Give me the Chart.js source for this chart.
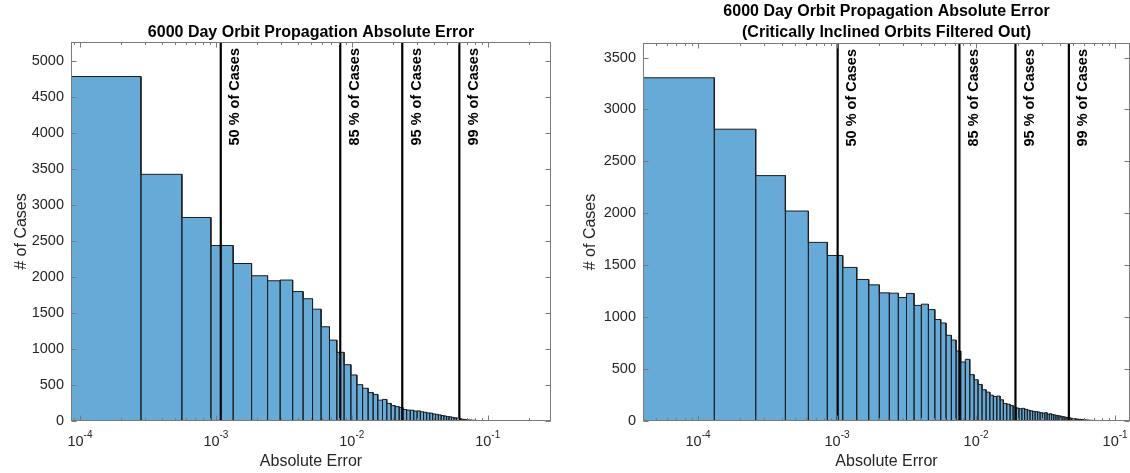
<!DOCTYPE html>
<html>
<head>
<meta charset="utf-8">
<script src="https://cdn.jsdelivr.net/npm/chart.js@4.4.1/dist/chart.umd.min.js"></script>
<style>
  html, body { margin: 0; padding: 0; background: #fff; }
  #wrap { position: relative; width: 1130px; height: 473px; overflow: hidden; }
  canvas { position: absolute; top: 0; }
</style>
</head>
<body>
<div id="wrap">
  <canvas id="histAll" width="565" height="473" style="left:0"></canvas>
  <canvas id="histFiltered" width="565" height="473" style="left:565px"></canvas>
</div>
<script>
/* ---------- data ---------- */

const TITLE_ALL = ["6000 Day Orbit Propagation Absolute Error"];
const TITLE_FILTERED = ["6000 Day Orbit Propagation Absolute Error", "(Critically Inclined Orbits Filtered Out)"];
const X_LABEL = "Absolute Error";
const Y_LABEL = "# of Cases";
const PCT_LABELS = ["50 % of Cases", "85 % of Cases", "95 % of Cases", "99 % of Cases"];

// x tick labels are 10^exp
const xTickExpAll = [-4, -3, -2, -1];
const xTickExpFiltered = [-4, -3, -2, -1];
const yTicksAll = [0, 500, 1000, 1500, 2000, 2500, 3000, 3500, 4000, 4500, 5000];
const yTicksFiltered = [0, 500, 1000, 1500, 2000, 2500, 3000, 3500];

// left chart: bin edges (absolute error) and counts
const edgesAll = [1e-5, 2.81e-4, 5.62e-4, 9.19e-4, 1.34e-3, 1.83e-3, 2.40e-3, 2.97e-3, 3.67e-3, 4.38e-3,
  5.14e-3, 5.94e-3, 6.85e-3, 7.76e-3, 8.77e-3, 9.84e-3, 1.089e-2, 1.20e-2, 1.318e-2, 1.435e-2,
  1.553e-2, 1.682e-2, 1.808e-2, 1.945e-2, 2.08e-2, 2.23e-2, 2.378e-2, 2.531e-2, 2.690e-2, 2.853e-2,
  3.021e-2, 3.193e-2, 3.371e-2, 3.553e-2, 3.740e-2, 3.932e-2, 4.129e-2, 4.331e-2, 4.537e-2, 4.748e-2,
  4.964e-2, 5.185e-2, 5.410e-2, 5.641e-2, 5.876e-2, 6.116e-2, 6.360e-2, 6.610e-2, 6.864e-2, 7.124e-2,
  7.387e-2, 7.656e-2, 7.930e-2, 8.208e-2, 8.491e-2, 8.779e-2, 9.072e-2, 9.370e-2, 9.672e-2, 9.979e-2,
  0.10291, 0.10608, 0.10930, 0.11256, 0.11587, 0.11923, 0.12264, 0.12610, 0.12960];
const countsAll = [4790, 3430, 2830, 2440, 2190, 2020, 1950, 1960, 1800, 1700,
  1555, 1310, 1125, 955, 783, 640, 505, 455, 395, 370,
  290, 300, 245, 215, 200, 188, 160, 152, 150, 138,
  140, 128, 122, 112, 110, 98, 92, 85, 76, 70,
  62, 58, 50, 45, 40, 35, 25, 22, 18, 15,
  14, 11, 10, 8, 7, 6, 5, 5, 4, 3,
  3, 2, 2, 2, 1, 1, 1, 1];
const pctAll = [1.086e-3, 8.22e-3, 2.35e-2, 6.18e-2];

// right chart (critically inclined orbits filtered out)
const edgesFiltered = [1e-5, 1.31e-4, 2.60e-4, 4.25e-4, 6.22e-4, 8.51e-4, 1.099e-3, 1.386e-3, 1.69e-3, 2.014e-3,
  2.377e-3, 2.76e-3, 3.16e-3, 3.58e-3, 4.04e-3, 4.54e-3, 5.05e-3, 5.57e-3, 6.08e-3, 6.64e-3,
  7.18e-3, 7.76e-3, 8.37e-3, 9.01e-3, 9.68e-3, 1.033e-2, 1.104e-2, 1.18e-2, 1.256e-2, 1.331e-2,
  1.41e-2, 1.489e-2, 1.571e-2, 1.662e-2, 1.757e-2, 1.846e-2, 1.940e-2, 2.036e-2, 2.135e-2, 2.235e-2,
  2.338e-2, 2.443e-2, 2.550e-2, 2.660e-2, 2.772e-2, 2.887e-2, 3.003e-2, 3.122e-2, 3.244e-2, 3.367e-2,
  3.493e-2, 3.621e-2, 3.752e-2, 3.885e-2, 4.020e-2, 4.158e-2, 4.297e-2, 4.439e-2, 4.584e-2, 4.731e-2,
  4.880e-2, 5.031e-2, 5.185e-2, 5.341e-2, 5.499e-2, 5.660e-2, 5.823e-2, 5.988e-2, 6.155e-2, 6.325e-2,
  6.497e-2, 6.672e-2, 6.849e-2, 7.028e-2, 7.209e-2, 7.393e-2, 7.579e-2, 7.767e-2, 7.958e-2, 8.151e-2,
  8.346e-2, 8.544e-2, 8.744e-2, 8.946e-2, 9.151e-2];
const countsFiltered = [3305, 2810, 2363, 2022, 1720, 1594, 1479, 1363, 1311, 1234,
  1231, 1189, 1228, 1113, 1125, 1073, 977, 944, 825, 780,
  674, 568, 594, 446, 397, 352, 301, 278, 249, 236,
  240, 204, 169, 162, 150, 134, 125, 118, 122, 112,
  104, 98, 92, 90, 86, 80, 76, 80, 66, 70,
  62, 58, 54, 50, 46, 42, 38, 35, 32, 28,
  25, 22, 20, 18, 16, 14, 13, 11, 10, 9,
  8, 7, 6, 6, 5, 4, 4, 3, 3, 2,
  2, 2, 1, 1];
const pctFiltered = [1.01e-3, 7.59e-3, 1.92e-2, 4.65e-2];

/* ---------- look ---------- */

const FONT = '"Liberation Sans", Arial, Helvetica, sans-serif';
const TEXT = "#262626";
const BOX = "#7a7a7a";
const FACE = "#66aad7";
const EDGE = "#1e1e1e";

// each bin becomes a closed rectangle in one outline path (MATLAB-style bars)
function outline(edges, counts) {
  const pts = [];
  counts.forEach((c, i) => {
    pts.push({ x: edges[i], y: 0 }, { x: edges[i], y: c }, { x: edges[i + 1], y: c }, { x: edges[i + 1], y: 0 });
  });
  return pts;
}

const matlabAxes = {
  id: "matlabAxes",
  afterDraw(chart, args, o) {
    const { ctx, chartArea: ca, scales: { x, y } } = chart;
    const L = Math.round(ca.left) + 0.5, R = Math.round(ca.right) - 0.5;
    const T = Math.round(ca.top) + 0.5, B = Math.round(ca.bottom) - 0.5;
    ctx.save();

    // box + inward ticks on all sides
    ctx.strokeStyle = BOX;
    ctx.lineWidth = 1;
    ctx.strokeRect(L, T, R - L, B - T);
    ctx.beginPath();
    o.yTicks.forEach(v => {
      const py = Math.round(y.getPixelForValue(v)) + 0.5;
      ctx.moveTo(L, py); ctx.lineTo(L + 5, py);
      ctx.moveTo(R, py); ctx.lineTo(R - 5, py);
    });
    for (let e = -6; e <= 0; e++) {
      for (let k = 1; k <= 9; k++) {
        const v = k * Math.pow(10, e);
        if (v < x.min || v > x.max) continue;
        const px = Math.round(x.getPixelForValue(v)) + 0.5;
        const len = k === 1 ? 5 : 2.5;
        ctx.moveTo(px, B); ctx.lineTo(px, B - len);
        ctx.moveTo(px, T); ctx.lineTo(px, T + len);
      }
    }
    ctx.stroke();

    // x tick labels 10^n
    ctx.fillStyle = TEXT;
    ctx.textBaseline = "alphabetic";
    ctx.textAlign = "left";
    o.xTickExp.forEach(n => {
      const px = x.getPixelForValue(Math.pow(10, n));
      ctx.font = "14.5px " + FONT;
      const wBase = ctx.measureText("10").width;
      ctx.font = "10px " + FONT;
      const sup = "-" + Math.abs(n);
      const wSup = ctx.measureText(sup).width;
      const x0 = px - (wBase + wSup) / 2;
      ctx.font = "14.5px " + FONT;
      ctx.fillText("10", x0, ca.bottom + 24.5);
      ctx.font = "10px " + FONT;
      ctx.fillText(sup, x0 + wBase, ca.bottom + 16.5);
    });

    // percentile labels beside the vertical lines
    ctx.fillStyle = "#000";
    ctx.font = "bold 14.5px " + FONT;
    o.pct.forEach((p, i) => {
      const px = x.getPixelForValue(p);
      ctx.save();
      ctx.translate(px + 18.3, ca.top + 6);
      ctx.rotate(-Math.PI / 2);
      ctx.textAlign = "right";
      ctx.textBaseline = "alphabetic";
      ctx.fillText(PCT_LABELS[i], 0, 0);
      ctx.restore();
    });

    // title centred over the axes
    ctx.font = "bold 16px " + FONT;
    ctx.textAlign = "center";
    ctx.textBaseline = "middle";
    const cx = (ca.left + ca.right) / 2;
    o.title.forEach((t, i) => ctx.fillText(t, cx, o.titleY[i]));
    ctx.restore();
  }
};

function makeHist(id, cfg) {
  const lines = cfg.pct.map(p => ({
    data: [{ x: p, y: 0 }, { x: p, y: cfg.ymax }],
    showLine: true, borderColor: "#000", borderWidth: 2.2,
    pointRadius: 0, pointHoverRadius: 0, fill: false, order: 1
  }));
  return new Chart(document.getElementById(id), {
    type: "scatter",
    data: {
      datasets: [{
        data: outline(cfg.edges, cfg.counts),
        showLine: true, fill: "origin", backgroundColor: FACE,
        borderColor: EDGE, borderWidth: 1, borderJoinStyle: "miter",
        pointRadius: 0, pointHoverRadius: 0, tension: 0, clip: 0, order: 2
      }, ...lines]
    },
    options: {
      responsive: false, animation: false, devicePixelRatio: 1, events: [],
      layout: { padding: { top: cfg.top, right: cfg.right, left: 0, bottom: 0 } },
      plugins: {
        legend: { display: false }, tooltip: { enabled: false }, title: { display: false },
        matlabAxes: { yTicks: cfg.yTicks, xTickExp: cfg.xTickExp, pct: cfg.pct, title: cfg.title, titleY: cfg.titleY }
      },
      scales: {
        x: {
          type: "logarithmic", min: cfg.xmin, max: cfg.xmax,
          grid: { display: false, drawTicks: false }, border: { display: false },
          ticks: { display: false },
          title: { display: true, text: X_LABEL, color: TEXT, font: { family: FONT, size: 16 }, padding: { top: 0, bottom: 1.4 } },
          afterFit: s => { s.height = cfg.xh; }
        },
        y: {
          type: "linear", min: 0, max: cfg.ymax,
          grid: { display: false, drawTicks: false }, border: { display: false },
          afterBuildTicks: s => { s.ticks = cfg.yTicks.map(v => ({ value: v })); },
          ticks: { color: TEXT, font: { family: FONT, size: 14.5 }, padding: 7, callback: v => String(v) },
          title: { display: true, text: Y_LABEL, color: TEXT, font: { family: FONT, size: 16 }, padding: { top: cfg.ytp, bottom: 0 } },
          afterFit: s => { s.width = cfg.yw; }
        }
      }
    },
    plugins: [matlabAxes]
  });
}

makeHist("histAll", {
  edges: edgesAll, counts: countsAll, pct: pctAll,
  xmin: 8.59e-5, xmax: 0.292, ymax: 5270,
  yTicks: yTicksAll, xTickExp: xTickExpAll,
  title: TITLE_ALL, titleY: [33],
  top: 42, right: 14, xh: 52, yw: 71, ytp: 12.4
});

makeHist("histFiltered", {
  edges: edgesFiltered, counts: countsFiltered, pct: pctFiltered,
  xmin: 4.02e-5, xmax: 0.128, ymax: 3640,
  yTicks: yTicksFiltered, xTickExp: xTickExpFiltered,
  title: TITLE_FILTERED, titleY: [12, 33],
  top: 43, right: 0, xh: 52, yw: 78, ytp: 16.4
});
</script>
</body>
</html>
